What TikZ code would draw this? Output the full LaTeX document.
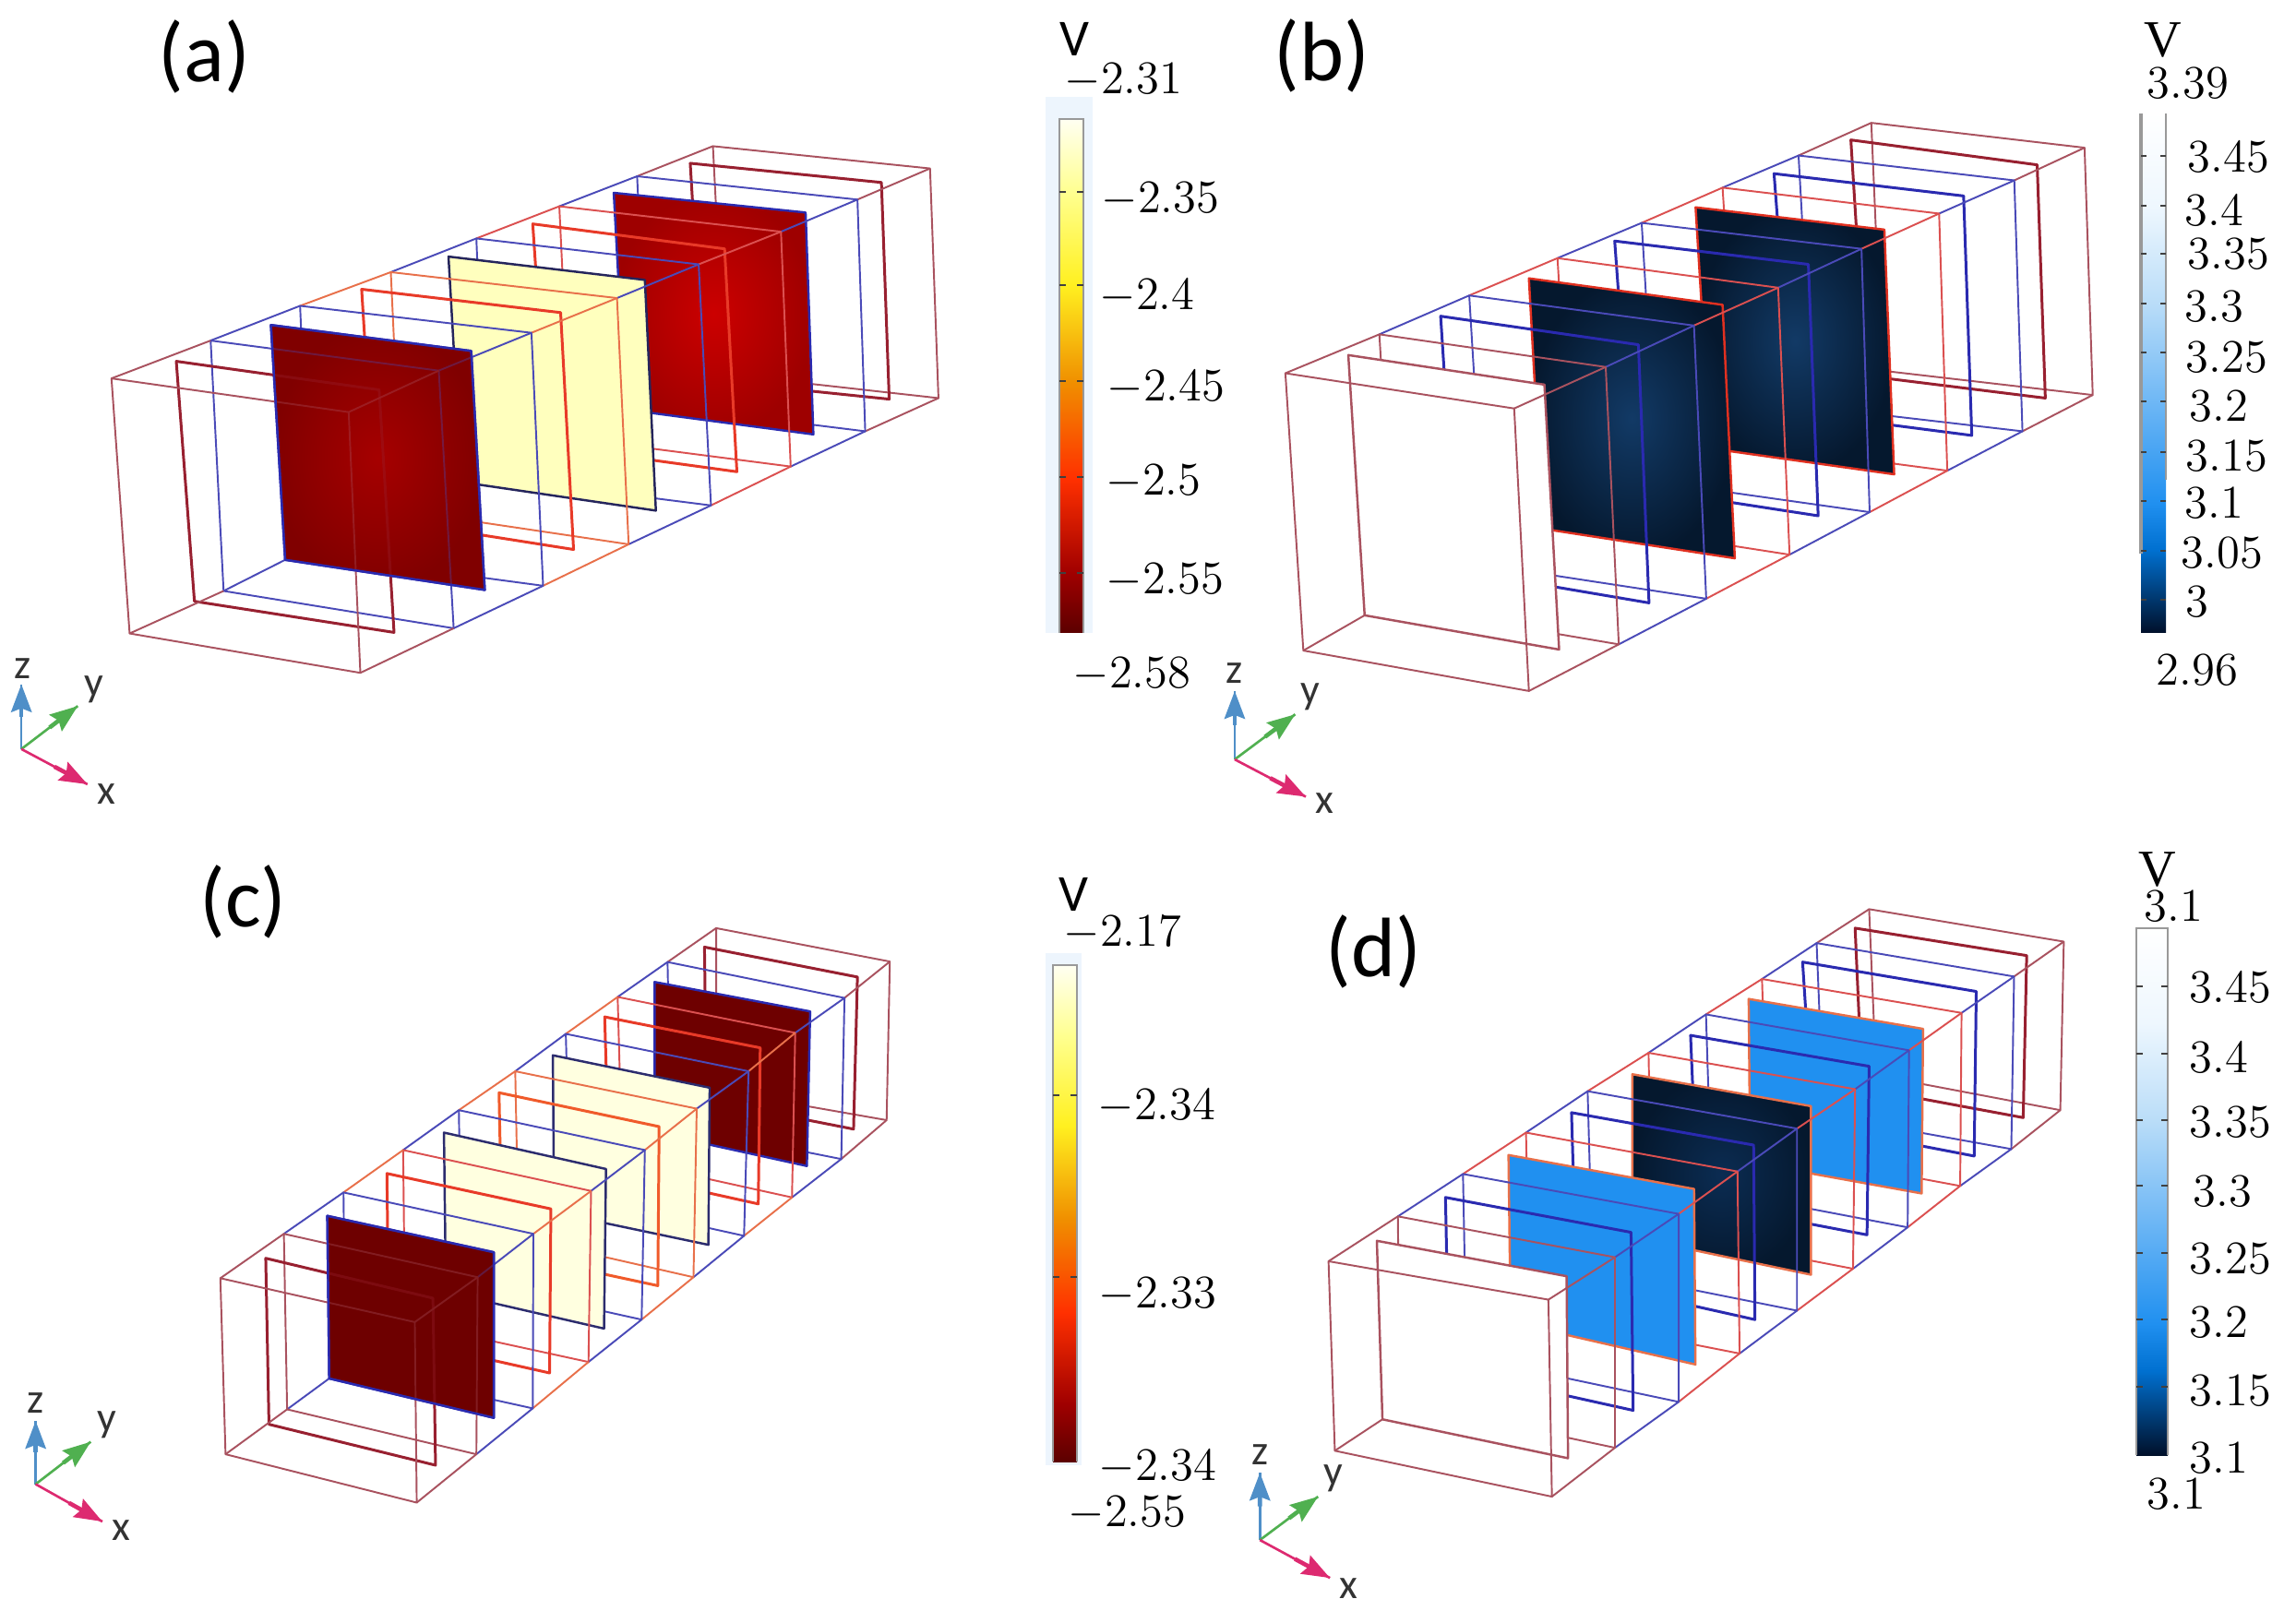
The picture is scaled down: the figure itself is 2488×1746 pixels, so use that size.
\documentclass[tikz,border=0pt]{standalone}
\usepackage{fontspec}
\setmainfont{Carlito}
\newfontfamily\serifv{Liberation Serif}
\usetikzlibrary{arrows.meta,calc}
\definecolor{hA}{HTML}{5C0000}\definecolor{hB}{HTML}{A00000}\definecolor{hC}{HTML}{FF3000}
\definecolor{hD}{HTML}{F09000}\definecolor{hE}{HTML}{FFF020}\definecolor{hF}{HTML}{FFFF90}\definecolor{hG}{HTML}{FFFFF2}
\definecolor{bA}{HTML}{00102A}\definecolor{bB}{HTML}{0070D0}\definecolor{bC}{HTML}{2090F0}
\definecolor{bD}{HTML}{70B8F5}\definecolor{bE}{HTML}{B8DCF8}\definecolor{bF}{HTML}{EEF7FE}\definecolor{bG}{HTML}{FFFFFF}
\pgfdeclareverticalshading{heatbar}{100bp}{color(0bp)=(hA); color(25bp)=(hA); color(30.85bp)=(hB); color(40bp)=(hC); color(49.5bp)=(hD); color(58.85bp)=(hE); color(67.9bp)=(hF); color(75bp)=(hG); color(100bp)=(hG)}
\pgfdeclareverticalshading{bluebar}{100bp}{color(0bp)=(bA); color(25bp)=(bA); color(33bp)=(bB); color(37.5bp)=(bC); color(47.5bp)=(bD); color(56.5bp)=(bE); color(66bp)=(bF); color(75bp)=(bG); color(100bp)=(bG)}
\definecolor{cR}{HTML}{A9525F}\definecolor{cB}{HTML}{4A4AB8}\definecolor{cS}{HTML}{DB5050}
\definecolor{cO}{HTML}{E8704A}\definecolor{cI}{HTML}{982030}\definecolor{cJ}{HTML}{E83A28}
\definecolor{cK}{HTML}{F05A2A}\definecolor{cN}{HTML}{2A2AB0}\definecolor{cP}{HTML}{E03020}
\definecolor{axZ}{HTML}{4F8FC8}\definecolor{axY}{HTML}{50B050}\definecolor{axX}{HTML}{DD2A70}
\definecolor{halo}{HTML}{EDF5FD}
\definecolor{plA}{HTML}{FFFFBE}\definecolor{plC}{HTML}{FFFFE0}\definecolor{plD}{HTML}{6E0000}
\definecolor{navyI}{HTML}{123A66}\definecolor{navyO}{HTML}{05182E}\definecolor{navyJ}{HTML}{0B2C52}
\tikzset{
 edgeline/.style={line width=0.55pt,line join=round},
 innerline/.style={line width=0.85pt,line join=round},
 plateline/.style={line width=0.7pt,line join=round},
 barlabel/.style={anchor=west,inner sep=0pt,font=\fontsize{14}{14}\selectfont},
 unitlabel/.style={inner sep=0pt,font=\fontsize{16}{16}\selectfont},
 unitserif/.style={inner sep=0pt,font=\fontsize{16}{16}\serifv},
 panellabel/.style={inner sep=0pt,font=\fontsize{26}{26}\selectfont},
 axlabel/.style={inner sep=0pt,font=\fontsize{13}{13}\selectfont,text=black!80},
 axarrow/.style={line width=0.75pt},
 axtip/.style={line width=1.3pt,-{Stealth[length=0.3cm,width=0.22cm,inset=0.04cm]}},
 ticks/.style={line width=0.5pt,black!75},
 barside/.style={draw=black!40,line width=0.6pt},
}
\newcommand\FirstSec[5]{\draw[edgeline,#1] (#2)--(#3)--(#4)--(#5)--cycle;
 \coordinate (p1) at (#2);\coordinate (p2) at (#3);\coordinate (p3) at (#4);\coordinate (p4) at (#5);}
\newcommand\Sec[6]{\draw[edgeline,#1] (p1)--(#3) (p2)--(#4) (p3)--(#5) (p4)--(#6);
 \draw[edgeline,#2] (#3)--(#4)--(#5)--(#6)--cycle;
 \coordinate (p1) at (#3);\coordinate (p2) at (#4);\coordinate (p3) at (#5);\coordinate (p4) at (#6);}
\newcommand\Inn[5]{\draw[innerline,#1] (#2)--(#3)--(#4)--(#5)--cycle;}
\newcommand\Plate[6]{\shade[#1] (#3)--(#4)--(#5)--(#6)--cycle;\draw[plateline,#2] (#3)--(#4)--(#5)--(#6)--cycle;\coordinate (p4) at (#6);}
\newcommand\Veil[6]{\shade[#1,opacity=0.65] (#3)--(#4)--(#5)--(#6)--cycle;\draw[plateline,#2] (#3)--(#4)--(#5)--(#6)--cycle;}
\newcommand\Axes[7]{% origin, z tip, y tip, x tip, z label, y label, x label
 \coordinate (ao) at (#1);\coordinate (az) at (#2);\coordinate (ay) at (#3);\coordinate (ax) at (#4);
 \draw[axarrow,axZ] (ao)--(az);\draw[axarrow,axY] (ao)--(ay);\draw[axarrow,axX] (ao)--(ax);
 \draw[axtip,axZ] ($(ao)!0.5!(az)$)--(az);\draw[axtip,axY] ($(ao)!0.5!(ay)$)--(ay);\draw[axtip,axX] ($(ao)!0.5!(ax)$)--(ax);
 \node[axlabel] (lz) at (#5) {z};\node[axlabel] (ly) at (#6) {y};\node[axlabel] (lx) at (#7) {x};}
\begin{document}
\begin{tikzpicture}[x=0.01cm,y=-0.01cm]
\useasboundingbox (0,0) rectangle (2488,1746);
\fill[white] (0,0) rectangle (2488,1746);
% ---------- panel a
\begin{scope}[x=0.007015cm,y=-0.005612cm]
\FirstSec{cR}{1100,282}{1435,325}{1448,768}{1118,722}
\Inn{cI}{1065,315}{1360,352}{1372,770}{1085,733}
\Sec{cR}{cB}{983,340}{1323,385}{1335,832}{1000,780}
\Plate{inner color=red!80!black,outer color=red!62!black}{cN}{947,372}{1243,410}{1255,838}{965,790}
\Sec{cB}{cS}{863,398}{1205,447}{1220,900}{880,845}
\Inn{cJ}{822,432}{1118,480}{1137,910}{845,860}
\Sec{cS}{cB}{735,460}{1078,510}{1097,975}{750,920}
\Plate{inner color=plA,outer color=plA}{black!50!cB}{692,495}{995,540}{1012,985}{712,930}
\Sec{cB}{cO}{603,525}{952,575}{970,1050}{620,985}
\Inn{cJ}{558,558}{865,603}{885,1060}{580,1000}
\Sec{cO}{cB}{463,590}{820,642}{838,1130}{480,1070}
\Plate{inner color=red!65!black,outer color=red!50!black}{cN}{418,627}{727,677}{748,1138}{440,1080}
\Sec{cB}{cB}{325,657}{677,715}{700,1212}{345,1140}
\Inn{cI}{272,697}{585,752}{608,1220}{300,1160}
\Sec{cR}{cR}{172,730}{538,795}{556,1298}{200,1222}
\Veil{inner color=red!65!black,outer color=red!50!black}{cN}{418,627}{727,677}{748,1138}{440,1080}
\Axes{33,1445}{33,1320}{120,1362}{135,1513}{35,1290}{145,1330}{165,1532}
\node[panellabel] (la) at (315,110) {(a)};
\end{scope}
% ---------- panel b
\begin{scope}[shift={(11cm,0cm)},x=0.008852cm,y=-0.005612cm]
\FirstSec{cR}{1047,237}{1308,285}{1318,762}{1060,715}
\Inn{cI}{1022,270}{1250,318}{1260,768}{1040,725}
\Sec{cR}{cB}{958,300}{1222,348}{1232,832}{975,785}
\Inn{cN}{928,335}{1160,378}{1170,840}{950,795}
\Sec{cB}{cS}{865,362}{1130,412}{1140,908}{885,855}
\Plate{inner color=navyI,outer color=navyO}{cP}{832,400}{1063,443}{1075,915}{850,865}
\Sec{cS}{cB}{766,430}{1035,480}{1045,988}{785,930}
\Inn{cN}{733,465}{970,510}{982,995}{755,940}
\Sec{cB}{cS}{663,498}{933,555}{947,1070}{682,1005}
\Plate{inner color=navyI,outer color=navyO}{cP}{628,537}{865,588}{880,1077}{645,1020}
\Sec{cS}{cB}{555,570}{830,628}{845,1155}{575,1090}
\Inn{cN}{520,610}{762,665}{775,1163}{540,1100}
\Sec{cB}{cR}{445,645}{722,708}{738,1243}{465,1170}
\Plate{inner color=white,outer color=white}{cR}{407,685}{647,742}{665,1253}{427,1187}
\Sec{cR}{cR}{330,720}{610,788}{628,1333}{352,1255}
\Axes{268,1465}{268,1333}{342,1378}{355,1537}{268,1298}{360,1345}{378,1550}
\node[panellabel] (lb) at (375,108) {(b)};
\end{scope}
% ---------- panel c
\begin{scope}[shift={(0cm,-9cm)},x=0.007015cm,y=-0.005395cm]
\FirstSec{cR}{1105,195}{1373,262}{1368,580}{1105,520}
\Inn{cI}{1087,233}{1323,293}{1317,598}{1090,540}
\Sec{cR}{cB}{1030,263}{1303,335}{1298,658}{1035,590}
\Plate{inner color=plD,outer color=plD}{cN}{1010,303}{1250,362}{1245,672}{1010,605}
\Sec{cB}{cS}{953,333}{1227,405}{1222,735}{960,660}
\Inn{cJ}{933,373}{1173,435}{1170,748}{940,682}
\Sec{cO}{cB}{873,407}{1155,482}{1148,812}{880,735}
\Plate{inner color=plC,outer color=plC}{black!40!cB}{853,450}{1095,515}{1093,830}{855,765}
\Sec{cB}{cO}{795,482}{1075,557}{1070,895}{800,815}
\Inn{cK}{770,525}{1017,593}{1015,912}{775,845}
\Sec{cO}{cB}{708,560}{995,640}{990,980}{712,900}
\Plate{inner color=plC,outer color=plC}{black!40!cB}{685,605}{935,678}{932,998}{688,925}
\Sec{cB}{cS}{622,640}{912,722}{908,1065}{625,985}
\Inn{cJ}{597,687}{850,758}{848,1087}{600,1015}
\Sec{cO}{cB}{530,725}{823,808}{822,1158}{533,1075}
\Plate{inner color=plD,outer color=plD}{cN}{505,772}{762,845}{762,1177}{508,1098}
\Sec{cB}{cR}{438,808}{737,895}{735,1250}{443,1160}
\Inn{cI}{410,857}{668,937}{672,1272}{415,1190}
\Sec{cR}{cR}{340,897}{640,985}{643,1347}{348,1250}
\Veil{inner color=plD,outer color=plD}{cN}{505,772}{762,845}{762,1177}{508,1098}
\Axes{55,1310}{55,1183}{140,1225}{158,1385}{55,1148}{165,1192}{187,1403}
\node[panellabel] (lc) at (375,143) {(c)};
\end{scope}
% ---------- panel d
\begin{scope}[shift={(13cm,-9cm)},x=0.007577cm,y=-0.005395cm]
\FirstSec{cR}{955,157}{1233,222}{1228,560}{965,490}
\Inn{cI}{935,195}{1180,250}{1175,575}{945,515}
\Sec{cR}{cB}{880,225}{1162,292}{1158,638}{890,570}
\Inn{cN}{860,263}{1108,322}{1105,652}{875,590}
\Sec{cB}{cS}{802,297}{1087,365}{1085,712}{810,640}
\Plate{inner color=bC,outer color=bC}{cO}{783,337}{1032,397}{1030,727}{785,665}
\Sec{cS}{cB}{722,368}{1012,440}{1010,795}{730,720}
\Inn{cN}{700,410}{955,472}{952,810}{710,745}
\Sec{cB}{cS}{640,445}{935,518}{932,878}{645,800}
\Plate{inner color=navyJ,outer color=navyO}{cO}{617,488}{872,552}{872,890}{617,815}
\Sec{cS}{cB}{553,522}{852,597}{852,962}{560,880}
\Inn{cN}{530,565}{790,630}{792,980}{537,900}
\Sec{cB}{cS}{465,605}{767,683}{770,1048}{470,965}
\Plate{inner color=bC,outer color=bC}{cO}{440,650}{705,718}{707,1070}{443,985}
\Sec{cS}{cB}{375,688}{683,768}{683,1145}{380,1055}
\Inn{cN}{350,735}{615,805}{618,1162}{355,1080}
\Sec{cB}{cR}{282,773}{592,855}{592,1237}{285,1145}
\Plate{inner color=white,outer color=white}{cR}{252,822}{523,893}{525,1258}{260,1180}
\Sec{cR}{cR}{183,863}{497,940}{502,1335}{192,1243}
\Axes{85,1422}{85,1287}{168,1335}{185,1498}{85,1250}{190,1298}{212,1520}
\node[panellabel] (ld) at (247,243) {(d)};
\end{scope}
% ---------- colour bar a
\fill[halo] (1133,105) rectangle (1184,686);
\shade[shading=heatbar] (1148,129) rectangle (1174,686);
\draw[barside] (1148,686)--(1148,129)--(1174,129)--(1174,686);
\foreach \y in {208,309,413,517,621}{\draw[ticks] (1148,\y)--(1155,\y) (1167,\y)--(1174,\y);}
\node[unitlabel] (va) at (1164,42) {V};
\node[barlabel] (a0) at (1153,87) {$-2.31$};
\node[barlabel] (a1) at (1193,216) {$-2.35$};
\node[barlabel] (a2) at (1191,321) {$-2.4$};
\node[barlabel] (a3) at (1199,420) {$-2.45$};
\node[barlabel] (a4) at (1198,522) {$-2.5$};
\node[barlabel] (a5) at (1198,629) {$-2.55$};
\node[barlabel] (a6) at (1162,731) {$-2.58$};
% ---------- colour bar b
\shade[shading=bluebar] (2320,123) rectangle (2347,686);
\draw[barside,line width=0.9pt] (2320,123)--(2320,600);
\draw[barside] (2347,123)--(2347,520);
\foreach \y in {169,223,275,329,382,435,490,543,597,650}{\draw[ticks] (2320,\y)--(2326,\y) (2341,\y)--(2347,\y);}
\node[unitserif] (vb) at (2344,44) {V};
\node[barlabel] (b0) at (2326,90) {$3.39$};
\node[barlabel] (b1) at (2370,170) {$3.45$};
\node[barlabel] (b2) at (2367,228) {$3.4$};
\node[barlabel] (b3) at (2370,275) {$3.35$};
\node[barlabel] (b4) at (2367,332) {$3.3$};
\node[barlabel] (b5) at (2368,387) {$3.25$};
\node[barlabel] (b6) at (2372,440) {$3.2$};
\node[barlabel] (b7) at (2368,494) {$3.15$};
\node[barlabel] (b8) at (2367,545) {$3.1$};
\node[barlabel] (b9) at (2363,599) {$3.05$};
\node[barlabel] (b10) at (2368,652) {$3$};
\node[barlabel] (b11) at (2336,726) {$2.96$};
% ---------- colour bar c
\fill[halo] (1133,1033) rectangle (1172,1588);
\shade[shading=heatbar] (1141,1046) rectangle (1167,1584);
\draw[barside] (1141,1584)--(1141,1046)--(1167,1046)--(1167,1584);
\foreach \y in {1187,1384}{\draw[ticks] (1141,\y)--(1148,\y) (1160,\y)--(1167,\y);}
\node[unitlabel] (vc) at (1163,969) {V};
\node[barlabel] (c0) at (1152,1011) {$-2.17$};
\node[barlabel] (c1) at (1189,1199) {$-2.34$};
\node[barlabel] (c2) at (1190,1403) {$-2.33$};
\node[barlabel] (c3) at (1190,1590) {$-2.34$};
\node[barlabel] (c4) at (1157,1640) {$-2.55$};
% ---------- colour bar d
\shade[shading=bluebar] (2315,1006) rectangle (2349,1577);
\draw[barside] (2315,1577)--(2315,1006)--(2349,1006)--(2349,1577);
\foreach \y in {1069,1142,1214,1285,1358,1430,1503}{\draw[ticks] (2315,\y)--(2322,\y) (2342,\y)--(2349,\y);}
\node[unitserif] (vd) at (2338,942) {V};
\node[barlabel] (d0) at (2323,982) {$3.1$};
\node[barlabel] (d1) at (2372,1070) {$3.45$};
\node[barlabel] (d2) at (2372,1146) {$3.4$};
\node[barlabel] (d3) at (2372,1216) {$3.35$};
\node[barlabel] (d4) at (2376,1291) {$3.3$};
\node[barlabel] (d5) at (2372,1364) {$3.25$};
\node[barlabel] (d6) at (2372,1433) {$3.2$};
\node[barlabel] (d7) at (2372,1507) {$3.15$};
\node[barlabel] (d8) at (2372,1580) {$3.1$};
\node[barlabel] (d9) at (2326,1619) {$3.1$};
\end{tikzpicture}
\end{document}
